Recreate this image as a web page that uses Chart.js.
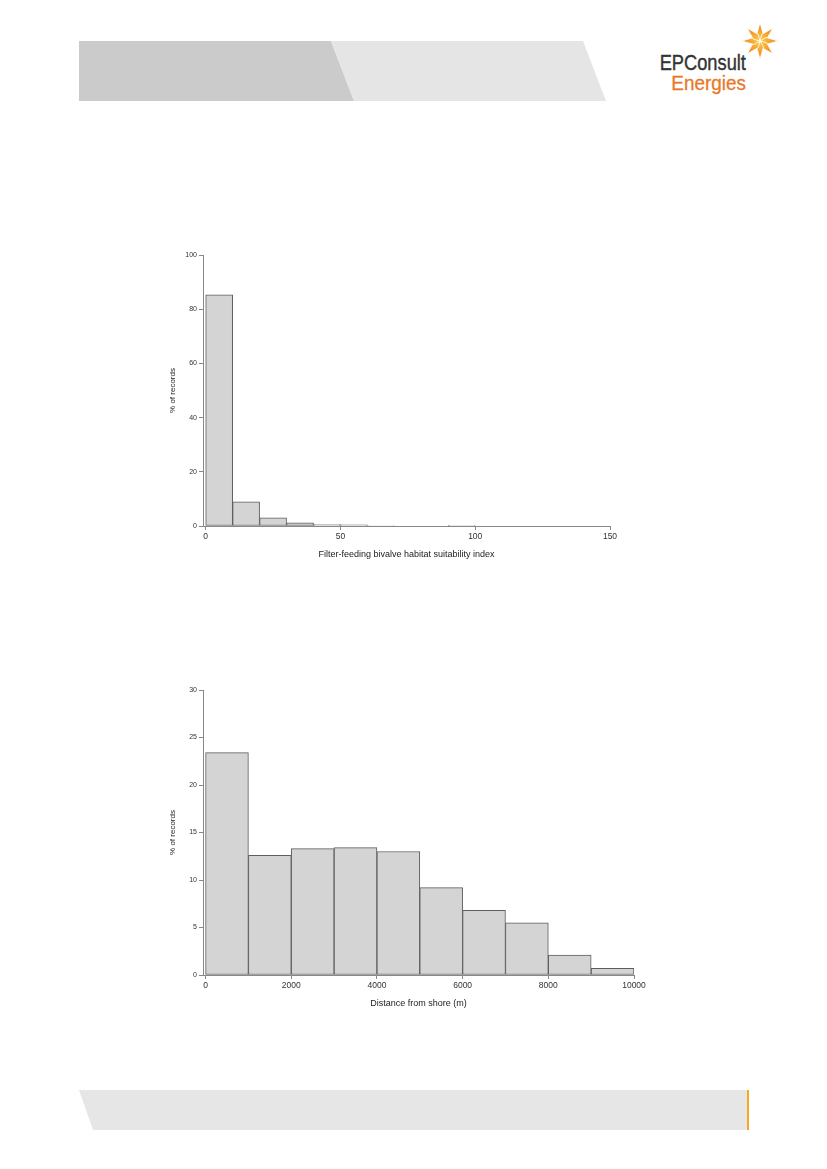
<!DOCTYPE html>
<html lang="en">
<head>
    <meta charset="UTF-8">
    <title>Habitat suitability and distance from shore histograms</title>
    <script src="https://cdn.jsdelivr.net/npm/chart.js"></script>
    <style>
        body { margin: 0; width: 827px; height: 1169px; position: relative; background: #fff; overflow: hidden; }
        .band { position: absolute; }
        .box { position: absolute; }
        .logo1, .logo2 { position: absolute; font-family: "Liberation Sans", Arial, sans-serif; white-space: nowrap; transform-origin: right top; text-align: right; }
    </style>
</head>
<body>
    <!-- header bands -->
    <div class="band" style="left:0;top:0;width:827px;height:110px;background:#cbcbcb;clip-path:polygon(79px 41px,331px 41px,354px 101px,79px 101px);"></div>
    <div class="band" style="left:0;top:0;width:827px;height:110px;background:#e5e5e5;clip-path:polygon(331px 41px,583px 41px,606px 101px,354px 101px);"></div>

    <!-- logo -->
    <svg style="position:absolute;left:739px;top:20px" width="42" height="42" viewBox="-21 -21 42 42">
        <defs>
            <radialGradient id="sg" cx="0" cy="0" r="18" gradientUnits="userSpaceOnUse">
                <stop offset="0" stop-color="#fbd04a"/>
                <stop offset="1" stop-color="#ef7d1a"/>
            </radialGradient>
        </defs>
        <g fill="url(#sg)" stroke="#fff" stroke-width="0.8">
            <polygon points="0,-18 3.5,-6 0,0 -3.5,-6"/>
            <polygon points="0,-18 3.5,-6 0,0 -3.5,-6" transform="rotate(45)"/>
            <polygon points="0,-18 3.5,-6 0,0 -3.5,-6" transform="rotate(90)"/>
            <polygon points="0,-18 3.5,-6 0,0 -3.5,-6" transform="rotate(135)"/>
            <polygon points="0,-18 3.5,-6 0,0 -3.5,-6" transform="rotate(180)"/>
            <polygon points="0,-18 3.5,-6 0,0 -3.5,-6" transform="rotate(225)"/>
            <polygon points="0,-18 3.5,-6 0,0 -3.5,-6" transform="rotate(270)"/>
            <polygon points="0,-18 3.5,-6 0,0 -3.5,-6" transform="rotate(315)"/>
        </g>
    </svg>
    <div class="logo1" style="right:81px;top:50px;font-size:22px;color:#333;transform:scaleX(0.83);-webkit-text-stroke:0.4px #333;">EPConsult</div>
    <div class="logo2" style="right:81px;top:71px;font-size:21px;color:#e8782a;transform:scaleX(0.9);-webkit-text-stroke:0.3px #e8782a;">Energies</div>

    <!-- charts -->
    <div class="box" style="left:153px;top:245px;width:472px;height:315px;"><canvas id="chartIndex"></canvas></div>
    <div class="box" style="left:153px;top:680px;width:496px;height:329px;"><canvas id="chartShore"></canvas></div>

    <!-- footer band -->
    <div class="band" style="left:0;top:1080px;width:827px;height:60px;background:#e6e6e6;clip-path:polygon(79px 10px,747px 10px,747px 50px,93px 50px);"></div>
    <div class="band" style="left:747px;top:1090px;width:2px;height:40px;background:#f5a623;"></div>

    <script>
        // top histogram: filter-feeding bivalve habitat suitability index, bins of 10
        const indexBinStarts = [0, 10, 20, 30, 40, 50, 60, 70, 80, 90];
        const indexPercents = [85.3, 8.9, 3.0, 1.2, 0.5, 0.4, 0.2, 0, 0, 0.1];
        const indexTicks = [0, 50, 100, 150];
        const indexBinWidth = 10;

        // bottom histogram: distance from shore (m), bins of 1000
        const shoreBinStarts = [0, 1000, 2000, 3000, 4000, 5000, 6000, 7000, 8000, 9000];
        const shorePercents = [23.4, 12.6, 13.3, 13.4, 13.0, 9.2, 6.8, 5.5, 2.1, 0.7];
        const shoreTicks = [0, 2000, 4000, 6000, 8000, 10000];
        const shoreBinWidth = 1000;

        Chart.defaults.font.family = '"Liberation Sans", Arial, sans-serif';
        Chart.defaults.color = '#333';

        function makeHistogram(id, starts, values, binWidth, opts) {
            const points = starts.map((s, i) => ({ x: s + binWidth / 2, y: values[i] === 0 ? null : values[i] }));
            const ctx = document.getElementById(id).getContext('2d');
            return new Chart(ctx, {
                type: 'bar',
                data: {
                    datasets: [{
                        data: points,
                        backgroundColor: '#d4d4d4',
                        borderColor: '#5e5e5e',
                        borderWidth: 1,
                        borderSkipped: false,
                        barPercentage: 1,
                        categoryPercentage: 1
                    }]
                },
                options: {
                    responsive: true,
                    maintainAspectRatio: false,
                    animation: false,
                    layout: { padding: { left: 0, top: 10, right: 15, bottom: 0 } },
                    plugins: { legend: { display: false }, tooltip: { enabled: false } },
                    scales: {
                        x: {
                            type: 'linear',
                            offset: false,
                            min: opts.xMin,
                            max: opts.xMax,
                            afterBuildTicks: s => { s.ticks = opts.xTicks.map(v => ({ value: v })); },
                            afterFit: s => { s.height = 34; },
                            ticks: { font: { size: 8.5 }, padding: 2, maxRotation: 0, autoSkip: false, color: '#333', callback: v => String(v) },
                            grid: { offset: false, drawOnChartArea: false, tickLength: 4, color: '#888' },
                            border: { color: '#888' },
                            title: { display: true, text: opts.xTitle, font: { size: 9 }, color: '#222', padding: { top: 0, bottom: 0 } }
                        },
                        y: {
                            min: 0,
                            max: opts.yMax,
                            afterFit: s => { s.width = 50; },
                            ticks: { stepSize: opts.yStep, font: { size: 7 }, padding: 2, color: '#333' },
                            grid: { drawOnChartArea: false, tickLength: 4, color: '#888' },
                            border: { color: '#888' },
                            title: { display: true, text: '% of records', font: { size: 8 }, color: '#222', padding: { top: 15, bottom: 0 } }
                        }
                    }
                }
            });
        }

        makeHistogram('chartIndex', indexBinStarts, indexPercents, indexBinWidth, {
            xMin: -1, xMax: 150, xTicks: indexTicks, yMax: 100, yStep: 20,
            xTitle: 'Filter-feeding bivalve habitat suitability index'
        });

        makeHistogram('chartShore', shoreBinStarts, shorePercents, shoreBinWidth, {
            xMin: -60, xMax: 10000, xTicks: shoreTicks, yMax: 30, yStep: 5,
            xTitle: 'Distance from shore (m)'
        });
    </script>
</body>
</html>
